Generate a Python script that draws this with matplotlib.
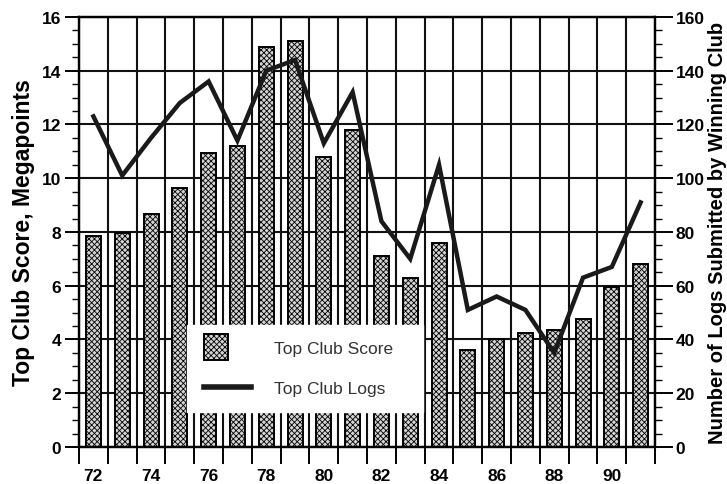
import numpy as np
import matplotlib
matplotlib.use("Agg")
import matplotlib.pyplot as plt
from matplotlib.patches import Rectangle
from matplotlib.legend_handler import HandlerPatch

plt.rcParams['font.family'] = ['Liberation Sans', 'DejaVu Sans']
plt.rcParams['hatch.color'] = '#444444'
plt.rcParams['hatch.linewidth'] = 0.6

# data
years = ['72', '73', '74', '75', '76', '77', '78', '79', '80', '81',
         '82', '83', '84', '85', '86', '87', '88', '89', '90', '91']
score = [7.85, 7.95, 8.65, 9.65, 10.95, 11.2, 14.9, 15.1, 10.8, 11.8,
         7.1, 6.3, 7.6, 3.6, 4.0, 4.25, 4.35, 4.75, 5.95, 6.8]
logs = [123, 101, 115, 128, 136, 114, 140, 144, 113, 132,
        84, 70, 105, 51, 56, 51, 35, 63, 67, 91]

x = np.arange(len(years))

fig = plt.figure(figsize=(7.27, 4.85), dpi=100)
ax = fig.add_axes([0.1087, 0.0763, 0.7923, 0.8867])

bars = ax.bar(x, score, width=0.52, facecolor='#d4d4d4', edgecolor='black',
              linewidth=1.4, hatch='xxxxxx', label='Top Club Score', zorder=2)

ax.set_xlim(-0.5, len(years) - 0.5)
ax.set_ylim(0, 16)
ax.set_axisbelow(True)

# category boundaries carry the grid and tick marks, labels sit under bars
ax.set_xticks(np.arange(-0.5, len(years)), labels=[])
ax.set_xticks(x[::2], labels=years[::2], minor=True)
ax.tick_params(axis='x', which='major', length=12, width=1.4, direction='out')
ax.tick_params(axis='x', which='minor', length=0, pad=15, labelsize=12.5)
ax.set_yticks(np.arange(0, 17, 2))
ax.set_yticks(np.arange(0, 16.1, 0.5), minor=True)
ax.tick_params(axis='y', which='major', length=10, width=1.4, pad=3, labelsize=12.5)
ax.tick_params(axis='y', which='minor', length=5, width=1.0)
for lab in ax.get_xticklabels(minor=True) + ax.get_yticklabels():
    lab.set_fontweight('bold')
ax.grid(True, which='major', color='#111111', linewidth=1.5)
ax.set_ylabel('Top Club Score, Megapoints', fontsize=16.5, fontweight='bold', labelpad=5)

for s in ax.spines.values():
    s.set_linewidth(1.6)

ax2 = ax.twinx()
line, = ax2.plot(x, logs, color='#1a1a1a', linewidth=3.2, label='Top Club Logs',
                 solid_joinstyle='miter', zorder=3)
ax2.set_ylim(0, 160)
ax2.set_yticks(np.arange(0, 161, 20))
ax2.set_yticks(np.arange(0, 161, 5), minor=True)
ax2.tick_params(axis='y', which='major', length=13, width=1.4, pad=2, labelsize=12.5)
ax2.tick_params(axis='y', which='minor', length=5, width=1.0)
for lab in ax2.get_yticklabels():
    lab.set_fontweight('bold')
ax2.set_ylabel('Number of Logs Submitted by Winning Club', fontsize=14.5,
               fontweight='bold', labelpad=2)
for s in ax2.spines.values():
    s.set_linewidth(1.6)


def square_patch(legend, orig_handle, xdescent, ydescent, width, height, fontsize):
    side = width * 0.54
    return Rectangle((-xdescent, height / 2 - side / 2 - ydescent), width * 0.52, side)


leg = ax2.legend([bars.patches[0], line], ['Top Club Score', 'Top Club Logs'],
                 loc='lower left', bbox_to_anchor=(0.1875, 0.081, 0.41, 0.2),
                 mode='expand', borderaxespad=0, frameon=True, fancybox=False,
                 edgecolor='white', facecolor='white', framealpha=1,
                 fontsize=12.5, handlelength=2.76, handletextpad=1.3,
                 labelspacing=1.4, borderpad=0.95,
                 handler_map={Rectangle: HandlerPatch(patch_func=square_patch)})
for t in leg.get_texts():
    t.set_color('#333333')
leg.get_lines()[0].set_linewidth(4)

fig.savefig('out.png', dpi=100)
